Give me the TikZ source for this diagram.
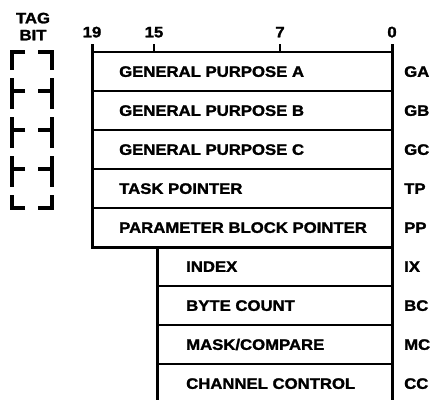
\documentclass[tikz,border=0pt]{standalone}
\usepackage{fontspec}
\setmainfont{Liberation Sans}[FakeStretch=1.1, BoldFeatures={FakeBold=1.6}]
\usetikzlibrary{positioning}

\tikzset{
  regtext/.style={anchor=west, inner sep=0pt, text height=10.7pt, text depth=0pt},
  bitnum/.style={inner sep=0pt, text height=10.7pt, text depth=0pt},
  outer/.style={line width=3pt, line join=miter},
  sep/.style={line width=2pt},
  tagline/.style={line width=3.5pt, dash pattern=on 31pt off 8pt, dash phase=13pt},
  tagarm/.style={line width=3.5pt}
}

\begin{document}
\begin{tikzpicture}[x=1pt, y=-1pt, font=\fontsize{15.2}{17}\selectfont\bfseries]
  \useasboundingbox (0,0) rectangle (431,399);

  % tag bit column
  \node[bitnum] (tag) at (33,18) {TAG};
  \node[bitnum] (bit) at (33,35) {BIT};
  \draw[tagline] (12,52) -- (12,208);
  \draw[tagline] (52,52) -- (52,208);
  \draw[tagarm] (25,52) -- (10.25,52);
  \draw[tagarm] (25,91) -- (12,91);
  \draw[tagarm] (25,130) -- (12,130);
  \draw[tagarm] (25,169) -- (12,169);
  \draw[tagarm] (25,208) -- (10.25,208);
  \draw[tagarm] (38,52) -- (53.75,52);
  \draw[tagarm] (38,91) -- (52,91);
  \draw[tagarm] (38,130) -- (52,130);
  \draw[tagarm] (38,169) -- (52,169);
  \draw[tagarm] (38,208) -- (53.75,208);

  % bit numbers
  \node[bitnum] (b19) at (92,32) {19};
  \node[bitnum] (b15) at (154,32) {15};
  \node[bitnum] (b7)  at (280,32) {7};
  \node[bitnum] (b0)  at (392,32) {0};
  \draw[sep] (154,44) -- (154,52);
  \draw[sep] (280,44) -- (280,52);

  % register outline
  \draw[line width=2.5pt] (92,52) -- (392,52);
  \draw[outer] (92,44) -- (92,247) -- (157,247) -- (157,410);
  \draw[outer] (392,44) -- (392,410);
  \draw[outer] (157,247) -- (392,247);
  \draw[sep] (92,91) -- (392,91);
  \draw[sep] (92,130) -- (392,130);
  \draw[sep] (92,169) -- (392,169);
  \draw[sep] (92,208) -- (392,208);
  \draw[sep] (157,286) -- (392,286);
  \draw[sep] (157,325) -- (392,325);
  \draw[sep] (157,364) -- (392,364);
  \draw[sep] (157,403) -- (392,403);

  % register names
  \node[regtext] (ga) at (119,71.5) {GENERAL PURPOSE A};
  \node[regtext] (gb) at (119,110.5) {GENERAL PURPOSE B};
  \node[regtext] (gc) at (119,149.5) {GENERAL PURPOSE C};
  \node[regtext] (tp) at (119,188.5) {TASK POINTER};
  \node[regtext] (pp) at (119,227.5) {PARAMETER BLOCK POINTER};
  \node[regtext] (ix) at (186,266.5) {INDEX};
  \node[regtext] (bc) at (186,305.5) {BYTE COUNT};
  \node[regtext] (mc) at (186,344.5) {MASK/COMPARE};
  \node[regtext] (cc) at (186,383.5) {CHANNEL CONTROL};

  % mnemonics
  \node[regtext] (gaL) at (404,71.5) {GA};
  \node[regtext] (gbL) at (404,110.5) {GB};
  \node[regtext] (gcL) at (404,149.5) {GC};
  \node[regtext] (tpL) at (404,188.5) {TP};
  \node[regtext] (ppL) at (404,227.5) {PP};
  \node[regtext] (ixL) at (404,266.5) {IX};
  \node[regtext] (bcL) at (404,305.5) {BC};
  \node[regtext] (mcL) at (404,344.5) {MC};
  \node[regtext] (ccL) at (404,383.5) {CC};
\end{tikzpicture}
\end{document}
